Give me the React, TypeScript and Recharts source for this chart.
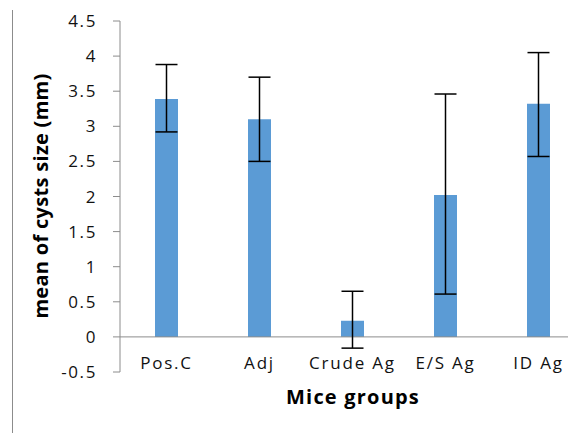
import { Bar, BarChart, ErrorBar, Label, ReferenceLine, XAxis, YAxis } from 'recharts';

const GROUPS = ['Pos.C', 'Adj', 'Crude Ag', 'E/S Ag', 'ID Ag'];
const MEANS = [3.39, 3.1, 0.23, 2.02, 3.32];
const ERR_LOW = [0.47, 0.6, 0.39, 1.41, 0.75];
const ERR_HIGH = [0.49, 0.6, 0.42, 1.44, 0.73];
const Y_TICKS = [-0.5, 0, 0.5, 1, 1.5, 2, 2.5, 3, 3.5, 4, 4.5];

const AXIS_GRAY = '#8c8c8c';
const FONT = '"Open Sans", "Liberation Sans", sans-serif';

const data = GROUPS.map((g, i) => ({ group: g, mean: MEANS[i], err: [ERR_LOW[i], ERR_HIGH[i]] }));

function XTick({ x, y, payload }: any) {
  return (
    <text x={x} y={y - 3} textAnchor="middle" fontFamily={FONT} fontSize={17} letterSpacing={1.8} fill="#111">
      {payload.value}
    </text>
  );
}

export default function App() {
  return (
    <div style={{ margin: -8, width: 576, height: 441, overflow: 'hidden', position: 'relative', background: '#fff' }}>
      <div style={{ position: 'absolute', left: 12, top: 10, width: 1, height: 427, background: AXIS_GRAY }} />
      <BarChart width={590} height={441} data={data} margin={{ top: 21, right: 5, left: 0, bottom: 39 }} barSize={23}>
        <XAxis
          dataKey="group"
          axisLine={false}
          tickLine={false}
          tickSize={0}
          tickMargin={0}
          height={30}
          tick={<XTick />}
          interval={0}
        >
          <Label
            content={() => (
              <text x={353} y={404} textAnchor="middle" fontFamily={FONT} fontSize={20} fontWeight="bold" letterSpacing={1.2} fill="#000">
                Mice groups
              </text>
            )}
          />
        </XAxis>
        <YAxis
          width={120}
          domain={[-0.5, 4.5]}
          ticks={Y_TICKS}
          interval={0}
          stroke={AXIS_GRAY}
          tickSize={7}
          tickMargin={16}
          tick={{ fill: '#111', fontSize: 17, fontFamily: FONT, letterSpacing: 1.6 }}
        >
          <Label
            content={() => (
              <text
                x={40}
                y={196}
                transform="rotate(-90 40 196)"
                textAnchor="middle"
                dominantBaseline="central"
                fontFamily={FONT}
                fontSize={20}
                fontWeight="bold"
                letterSpacing={0.3}
                fill="#000"
              >
                mean of cysts size (mm)
              </text>
            )}
          />
        </YAxis>
        <ReferenceLine y={0} stroke={AXIS_GRAY} strokeWidth={1} />
        <Bar dataKey="mean" fill="#5b9bd5" isAnimationActive={false}>
          <ErrorBar dataKey="err" direction="y" width={11} stroke="#000" strokeWidth={1.5} isAnimationActive={false} />
        </Bar>
      </BarChart>
    </div>
  );
}
